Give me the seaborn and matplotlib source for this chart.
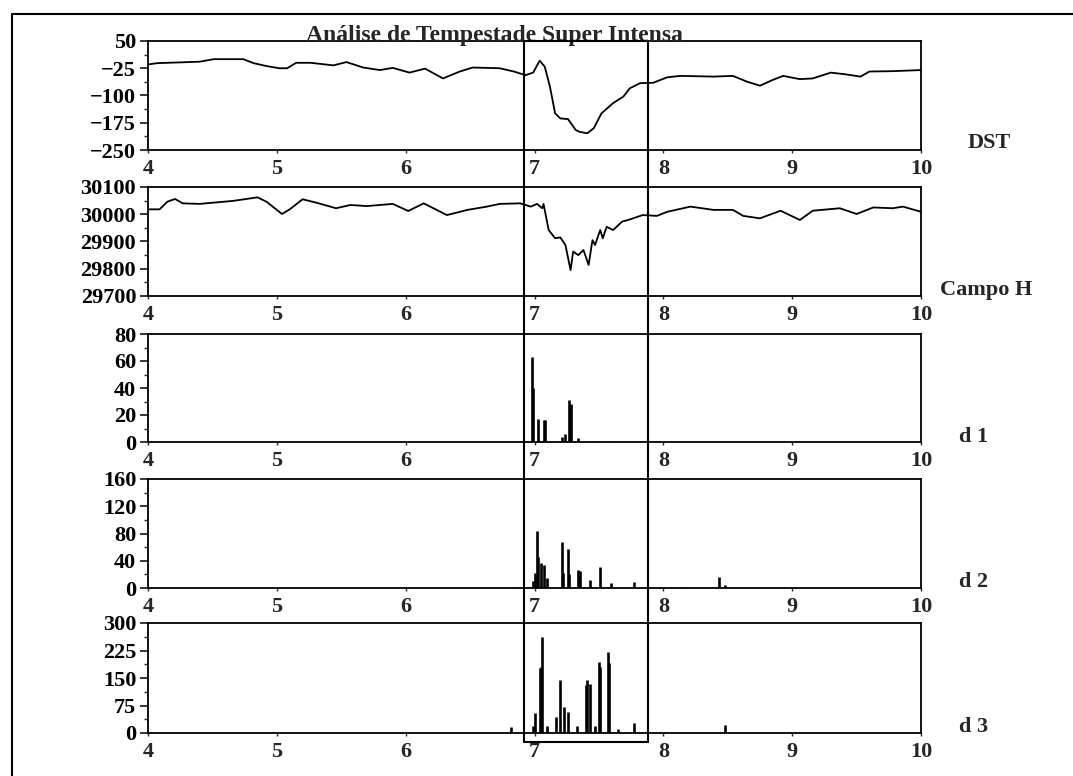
import numpy as np
import pandas as pd
import matplotlib
matplotlib.use('Agg')
import matplotlib.pyplot as plt
import seaborn as sns
from matplotlib.ticker import AutoMinorLocator
from matplotlib.patches import Rectangle
from matplotlib.lines import Line2D
import matplotlib.transforms as mtransforms

# ---------------- data ----------------
title = "Análise de Tempestade Super Intensa"
x_ticks = [4, 5, 6, 7, 8, 9, 10]

dst_day = [4.01, 4.07, 4.40, 4.51, 4.74, 4.82, 4.92, 5.02, 5.08, 5.15, 5.26, 5.44, 5.54, 5.67,
           5.80, 5.90, 6.03, 6.15, 6.29, 6.42, 6.52, 6.73, 6.84, 6.93, 6.99, 7.04, 7.08, 7.12,
           7.16, 7.20, 7.26, 7.32, 7.35, 7.41, 7.46, 7.52, 7.61, 7.69, 7.74, 7.82, 7.92, 8.03,
           8.13, 8.39, 8.54, 8.65, 8.75, 8.85, 8.93, 9.06, 9.16, 9.30, 9.42, 9.53, 9.60, 9.78, 10.0]
dst_val = [-14, -11, -7, 0, 0, -11, -19, -25, -25, -10, -10, -17, -8, -23,
           -30, -24, -37, -26, -53, -34, -23, -25, -34, -44, -37, -4, -21, -76,
           -149, -163, -165, -195, -200, -204, -190, -149, -121, -103, -80, -66, -65, -50,
           -46, -48, -46, -62, -73, -57, -46, -55, -53, -37, -42, -48, -34, -33, -30]

h_day = [4.01, 4.09, 4.15, 4.21, 4.27, 4.40, 4.66, 4.85, 4.92, 5.04, 5.10, 5.20, 5.31, 5.46,
         5.57, 5.70, 5.90, 6.02, 6.14, 6.32, 6.48, 6.63, 6.73, 6.89, 6.97, 7.02, 7.06, 7.07,
         7.11, 7.16, 7.20, 7.24, 7.28, 7.30, 7.34, 7.38, 7.42, 7.45, 7.47, 7.51, 7.53, 7.56,
         7.61, 7.68, 7.74, 7.84, 7.95, 8.03, 8.21, 8.39, 8.54, 8.62, 8.75, 8.91, 9.06, 9.16,
         9.37, 9.50, 9.63, 9.78, 9.86, 10.0]
h_val = [30018, 30018, 30046, 30056, 30040, 30038, 30049, 30062, 30046, 30001, 30018, 30055, 30042, 30022,
         30034, 30030, 30038, 30012, 30040, 29997, 30016, 30028, 30038, 30040, 30028, 30038, 30022, 30038,
         29942, 29912, 29915, 29887, 29795, 29863, 29850, 29869, 29814, 29905, 29887, 29942, 29912, 29954,
         29942, 29973, 29981, 29997, 29994, 30009, 30028, 30016, 30016, 29994, 29985, 30013, 29979, 30013,
         30022, 30001, 30025, 30022, 30028, 30009]

d1_day = [6.98, 6.99, 7.03, 7.07, 7.08, 7.21, 7.24, 7.27, 7.28, 7.34, 7.45, 7.60]
d1_val = [63, 40, 17, 16, 16, 4, 6, 31, 28, 3, 1, 1]

d2_day = [6.85, 6.99, 7.00, 7.02, 7.03, 7.05, 7.07, 7.10, 7.21, 7.22, 7.26, 7.27, 7.34, 7.35,
          7.43, 7.51, 7.59, 7.77, 8.13, 8.43, 8.48]
d2_val = [2, 10, 22, 84, 46, 36, 34, 15, 68, 22, 57, 20, 26, 25, 12, 31, 7, 9, 2, 16, 4]

d3_day = [6.82, 6.99, 7.00, 7.04, 7.05, 7.06, 7.10, 7.17, 7.20, 7.23, 7.26, 7.33, 7.40, 7.41,
          7.43, 7.47, 7.50, 7.51, 7.57, 7.58, 7.65, 7.77, 8.48]
d3_val = [17, 20, 54, 176, 180, 263, 20, 44, 145, 72, 58, 20, 130, 145,
          135, 20, 195, 180, 222, 190, 10, 26, 22]

box_start, box_end = 6.92, 7.88

panel_labels = ["DST", "Campo H", "d 1", "d 2", "d 3"]
y_limits = [(-250, 50), (29700, 30100), (0, 80), (0, 160), (0, 300)]
y_ticks = [[-250, -175, -100, -25, 50],
           [29700, 29800, 29900, 30000, 30100],
           [0, 20, 40, 60, 80],
           [0, 40, 80, 120, 160],
           [0, 75, 150, 225, 300]]

# ---------------- style ----------------
sns.set_theme(style='ticks')
plt.rcParams['font.family'] = ['Liberation Serif', 'DejaVu Serif']
plt.rcParams['font.weight'] = 'bold'
plt.rcParams['axes.unicode_minus'] = True

W, H = 1073, 776
fig = plt.figure(figsize=(W / 100, H / 100), dpi=100)
FS = 16
TFS = 17

# pixel layout (top, bottom) of each panel
rows = [(41, 150), (187, 296), (334, 442), (479, 588), (623, 733)]
label_pos = [(968, 143), (940, 290), (959, 437), (959, 582), (959, 727)]
left_px, right_px = 148, 921

axes = []
for (top, bot) in rows:
    ax = fig.add_axes([left_px / W, 1 - bot / H, (right_px - left_px) / W, (bot - top) / H])
    axes.append(ax)

sns.lineplot(x=dst_day, y=dst_val, ax=axes[0], color='black', linewidth=1.3, legend=False)
sns.lineplot(x=h_day, y=h_val, ax=axes[1], color='black', linewidth=1.3, legend=False)
for ax, dd, vv in zip(axes[2:], [d1_day, d2_day, d3_day], [d1_val, d2_val, d3_val]):
    ax.vlines(dd, 0, vv, colors='black', linewidth=1.9)

for i, ax in enumerate(axes):
    ax.set_xlim(4, 10)
    ax.set_ylim(*y_limits[i])
    ax.set_xticks(x_ticks)
    ax.set_xticklabels([str(t) for t in x_ticks], fontsize=FS, fontweight='bold')
    ax.set_yticks(y_ticks[i])
    ax.set_yticklabels([str(t).replace('-', '\u2212') for t in y_ticks[i]], fontsize=FS, fontweight='bold')
    ax.yaxis.set_minor_locator(AutoMinorLocator(2))
    ax.tick_params(axis='y', which='major', direction='out', length=6, width=1.1, pad=2.5, colors='black')
    ax.tick_params(axis='y', which='minor', direction='out', length=3, width=1.0)
    ax.tick_params(axis='x', which='major', direction='out', length=2, width=1.0, pad=4.5)
    for s in ax.spines.values():
        s.set_linewidth(1.3)
        s.set_color('black')
        s.set_visible(True)
    ax.set_xlabel('')
    ax.set_ylabel('')
    ax.set_facecolor('none')
    lx, ly = label_pos[i]
    fig.text(lx / W, 1 - ly / H, panel_labels[i], ha='left', va='center',
             fontsize=FS, fontweight='bold')

# title sitting on the top panel's frame
fig.text(494 / W, 1 - 41 / H, title, ha='center', va='baseline', fontsize=TFS, fontweight='bold')

# highlight box around the storm window
trans = mtransforms.blended_transform_factory(axes[0].transData, fig.transFigure)
rect = Rectangle((box_start, 1 - 742 / H), box_end - box_start, (742 - 41) / H,
                 fill=False, edgecolor='black', linewidth=1.5, transform=trans, zorder=10)
fig.add_artist(rect)

# outer frame
fig.add_artist(Line2D([12 / W, 12 / W], [0, 1 - 14 / H], transform=fig.transFigure, color='black', lw=1.5))
fig.add_artist(Line2D([12 / W, 1.0], [1 - 14 / H, 1 - 14 / H], transform=fig.transFigure, color='black', lw=1.5))

fig.savefig('out.png', dpi=100, facecolor='white')
